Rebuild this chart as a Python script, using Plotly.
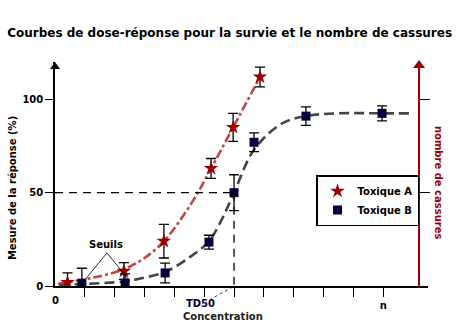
import plotly.graph_objects as go

# Measured responses (concentration in arbitrary units, response in %)
conc_a = [0.42, 2.31, 3.65, 5.23, 5.97, 6.87]
resp_a = [2, 8, 24, 63, 85, 112]
err_a = [5, 4.5, 9, 5.3, 7.5, 5.3]

conc_b = [0.9, 2.35, 3.69, 5.16, 6.0, 6.67, 8.41, 10.96]
resp_b = [1.5, 1.5, 7, 23.5, 50, 77, 91, 92.5]
err_b = [8, 5, 5.3, 3.7, 9.6, 5, 5, 4]

# Fitted dose-response curves
fit_a_x = [0.1, 0.42, 1.3, 2.31, 3.0, 3.65, 4.6, 5.23, 5.97, 6.87]
fit_a_y = [1, 2, 4.5, 9, 15, 24, 45, 63, 85, 112]
fit_b_x = [0.15, 0.9, 2.35, 3.0, 3.69, 4.52, 5.16, 5.6, 6.0, 6.67, 7.6, 8.41, 9.5, 10.96, 11.95]
fit_b_y = [0.5, 1, 2.5, 4.5, 7.5, 15.5, 24, 36, 50, 73, 87, 91, 92.5, 92.5, 92.5]

# Threshold dose (TD50) at 50 % response
td50_x = 6.0
td50_y = 50

x_tickvals = list(range(1, 12))
x_ticktext = [""] * 10 + ["n"]
y_tickvals = [0, 50, 100]
y_ticktext = ["0", "50", "100"]

RED = "#9b0000"
NAVY = "#00003a"
FONT = "DejaVu Sans"

x_min, x_max = 0, 12.5
y_min, y_max = 0, 120
right_axis_pos = 0.976

fig = go.Figure()

fig.add_trace(go.Scatter(
    x=fit_a_x, y=fit_a_y, mode="lines", line_shape="spline",
    line=dict(color="#c04848", width=2.6, dash="dashdot"),
    showlegend=False, hoverinfo="skip"))
fig.add_trace(go.Scatter(
    x=fit_b_x, y=fit_b_y, mode="lines", line_shape="spline",
    line=dict(color="#444444", width=2.6, dash="10px,5px"),
    showlegend=False, hoverinfo="skip"))

fig.add_trace(go.Scatter(
    x=conc_a, y=resp_a, mode="markers", name="Toxique A",
    marker=dict(symbol="star", size=11, color=RED),
    error_y=dict(type="data", array=err_a, color="black", thickness=1.3, width=5)))
fig.add_trace(go.Scatter(
    x=conc_b, y=resp_b, mode="markers", name="Toxique B",
    marker=dict(symbol="square", size=9, color=NAVY),
    error_y=dict(type="data", array=err_b, color="black", thickness=1.3, width=5)))

# Secondary axis for the number of breaks (no data, axis only)
fig.add_trace(go.Scatter(x=[], y=[], yaxis="y2", showlegend=False, hoverinfo="skip"))

shapes = [
    # TD50 guide lines
    dict(type="line", xref="x", yref="y", x0=x_min, y0=td50_y, x1=td50_x, y1=td50_y,
         line=dict(color="black", width=1.3, dash="8px,6px")),
    dict(type="line", xref="x", yref="y", x0=td50_x, y0=td50_y, x1=td50_x, y1=y_min,
         line=dict(color="black", width=1.3, dash="8px,6px")),
    # "Seuils" pointers
    dict(type="line", xref="x", yref="y", x0=1.74, y0=17.7, x1=1.0, y1=3.2,
         line=dict(color="black", width=0.8)),
    dict(type="line", xref="x", yref="y", x0=1.74, y0=17.7, x1=2.51, y1=2.7,
         line=dict(color="black", width=0.8)),
    # TD50 pointer
    dict(type="line", xref="paper", yref="paper", x0=0.477, y0=-0.004, x1=0.418, y1=-0.058,
         line=dict(color="black", width=0.8, dash="dot")),
    # axis arrow heads
    dict(type="path", xref="paper", yref="paper", xsizemode="pixel", ysizemode="pixel",
         xanchor=0, yanchor=1, path="M -5,-7 L 5,-7 L 0,0 Z",
         fillcolor="black", line=dict(width=0)),
    dict(type="path", xref="paper", yref="paper", xsizemode="pixel", ysizemode="pixel",
         xanchor=right_axis_pos, yanchor=1, path="M -6,-6 L 6,-6 L 0,2 Z",
         fillcolor=RED, line=dict(width=0)),
]


def label(text, x, y, color="black", angle=0, xref="paper", yref="paper"):
    return dict(text=text, xref=xref, yref=yref, x=x, y=y, textangle=angle,
                xanchor="center", yanchor="middle", showarrow=False,
                font=dict(family=FONT, size=10, color=color))


annotations = [
    label("<b>Mesure de la réponse (%)</b>", -0.115, 0.4375, angle=-90),
    label("<b>nombre de cassures</b>", 1.027, 0.46, color=RED, angle=90),
    label("<b>Seuils</b>", 1.71, 22, xref="x", yref="y"),
    label("<b>0</b>", 0, -0.0625),
    label("<b>TD50</b>", 0.389, -0.080, color=NAVY),
    label("<b>Concentration</b>", 0.450, -0.134, color="#222222"),
]

fig.update_layout(
    width=462, height=335,
    margin=dict(l=55, r=34, t=62, b=49),
    paper_bgcolor="white", plot_bgcolor="white",
    font=dict(family=FONT, size=10, color="black"),
    title=dict(text="<b>Courbes de dose-réponse pour la survie et le nombre de cassures</b>",
               x=0.497, xanchor="center", y=1 - 33 / 335, yanchor="middle",
               font=dict(family=FONT, size=12, color="black")),
    xaxis=dict(range=[x_min, x_max], showgrid=False, zeroline=False,
               showline=True, linecolor="black", linewidth=1.5,
               ticks="outside", ticklen=9, tickwidth=1.3, tickcolor="black",
               tickvals=x_tickvals, ticktext=x_ticktext,
               tickfont=dict(family=FONT, size=10, weight="bold")),
    yaxis=dict(range=[y_min, y_max], showgrid=False, zeroline=False,
               showline=True, linecolor="black", linewidth=1.5,
               ticks="outside", ticklen=8, tickwidth=1.3, tickcolor="black",
               tickvals=y_tickvals, ticktext=y_ticktext,
               tickfont=dict(family=FONT, size=10, weight="bold")),
    yaxis2=dict(range=[y_min, y_max], overlaying="y", anchor="free",
                position=right_axis_pos, side="right", showgrid=False, zeroline=False,
                showline=True, linecolor=RED, linewidth=1.5,
                ticks="outside", ticklen=10, tickwidth=1.3, tickcolor="black",
                tickvals=[50, 100], showticklabels=False),
    legend=dict(x=right_axis_pos, xanchor="right", y=0.4955, yanchor="top",
                bgcolor="white", bordercolor="black", borderwidth=1.5,
                font=dict(family=FONT, size=10, weight="bold"), itemwidth=30),
    shapes=shapes,
    annotations=annotations,
)

fig.write_html("out.html")
